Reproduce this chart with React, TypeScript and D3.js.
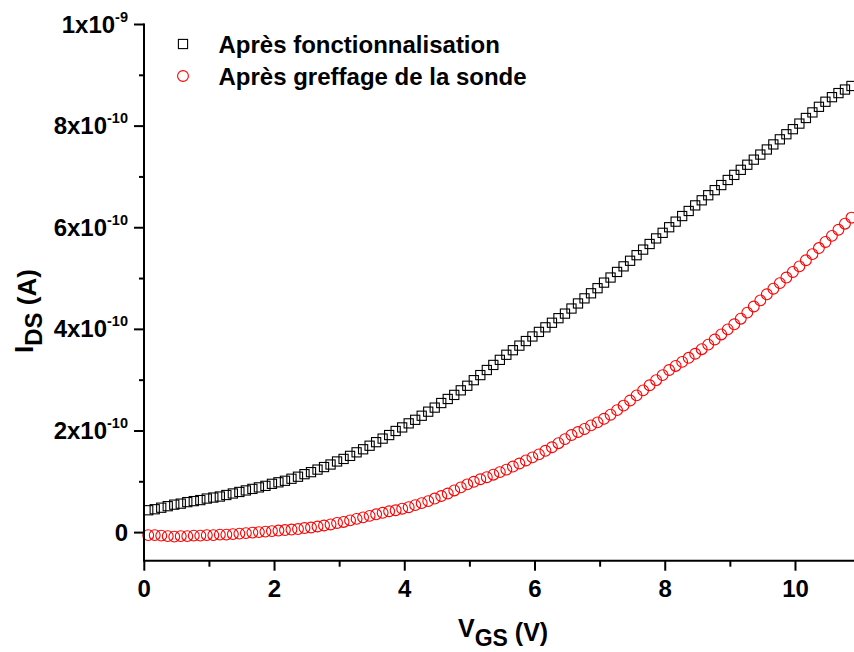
import { scaleLinear, range } from "d3";

// V_GS sampling grid (V)
const vStart = 0.06;
const vStep = 0.1;

// I_DS in units of 1e-10 A
const afterFunctionalisation = [
  0.44, 0.46, 0.49, 0.52, 0.55, 0.57, 0.6, 0.62, 0.64, 0.67,
  0.69, 0.71, 0.74, 0.77, 0.8, 0.83, 0.86, 0.89, 0.92, 0.96,
  0.99, 1.02, 1.06, 1.1, 1.15, 1.19, 1.24, 1.29, 1.34, 1.4,
  1.45, 1.51, 1.58, 1.64, 1.71, 1.78, 1.85, 1.92, 2.0, 2.07,
  2.15, 2.22, 2.3, 2.38, 2.46, 2.55, 2.63, 2.71, 2.8, 2.89,
  3.0, 3.1, 3.2, 3.3, 3.4, 3.5, 3.59, 3.68, 3.77, 3.86,
  3.95, 4.04, 4.13, 4.22, 4.31, 4.41, 4.51, 4.61, 4.71, 4.81,
  4.92, 5.02, 5.13, 5.24, 5.35, 5.46, 5.57, 5.68, 5.79, 5.9,
  6.01, 6.12, 6.23, 6.33, 6.44, 6.54, 6.64, 6.74, 6.84, 6.94,
  7.04, 7.14, 7.24, 7.34, 7.44, 7.54, 7.64, 7.74, 7.84, 7.94,
  8.05, 8.16, 8.27, 8.38, 8.48, 8.57, 8.65, 8.72, 8.79,
];

const afterProbeGrafting = [
  -0.05, -0.05, -0.06, -0.07, -0.08, -0.07, -0.07, -0.06, -0.06, -0.05,
  -0.05, -0.04, -0.04, -0.03, -0.02, -0.01, 0.0, 0.01, 0.02, 0.03,
  0.04, 0.05, 0.06, 0.07, 0.09, 0.1, 0.12, 0.14, 0.16, 0.19,
  0.21, 0.24, 0.27, 0.3, 0.33, 0.36, 0.39, 0.42, 0.44, 0.47,
  0.5, 0.54, 0.58, 0.62, 0.67, 0.72, 0.77, 0.83, 0.89, 0.95,
  1.0, 1.05, 1.09, 1.14, 1.19, 1.24, 1.3, 1.36, 1.42, 1.48,
  1.54, 1.61, 1.68, 1.76, 1.84, 1.92, 1.98, 2.04, 2.11, 2.17,
  2.24, 2.32, 2.41, 2.5, 2.6, 2.7, 2.8, 2.9, 3.0, 3.1,
  3.2, 3.28, 3.36, 3.44, 3.52, 3.61, 3.7, 3.8, 3.9, 4.0,
  4.1, 4.21, 4.33, 4.45, 4.57, 4.69, 4.8, 4.91, 5.02, 5.13,
  5.24, 5.36, 5.48, 5.6, 5.72, 5.84, 5.96, 6.08, 6.2,
];

const xMajorTicks = [0, 2, 4, 6, 8, 10];
const xMinorTicks = [1, 3, 5, 7, 9];
const yMajorTicks = [0, 2, 4, 6, 8, 10];
const yMinorTicks = [1, 3, 5, 7, 9];
// label parts: mantissa, exponent
const yTickLabels: [string, string][] = [
  ["0", ""],
  ["2x10", "-10"],
  ["4x10", "-10"],
  ["6x10", "-10"],
  ["8x10", "-10"],
  ["1x10", "-9"],
];

const legendLabels = ["Après fonctionnalisation", "Après greffage de la sonde"];

const W = 854;
const H = 652;
const font = "'Liberation Sans', Arial, Helvetica, sans-serif";

const App = () => {
  const xScale = scaleLinear().domain([0, 11]).range([144.3, 860.6]);
  const yScale = scaleLinear().domain([-0.553, 10]).range([560.7, 24.5]);

  const vgs = range(afterFunctionalisation.length).map((i) => vStart + i * vStep);

  const x0 = xScale(0);
  const yBottom = yScale(-0.553);
  const yTop = yScale(10);

  const sq = 9.2;

  return (
    <svg
      width={W}
      height={H}
      style={{ position: "absolute", left: 0, top: 0, display: "block", background: "#fff" }}
      fontFamily={font}
      fontWeight="bold"
    >
      <rect width={W} height={H} fill="#fff" />

      {/* data */}
      <g fill="none" stroke="#000" strokeWidth={1.1}>
        {afterFunctionalisation.map((v, i) => (
          <rect
            key={i}
            x={xScale(vgs[i]) - sq / 2}
            y={yScale(v) - sq / 2}
            width={sq}
            height={sq}
          />
        ))}
      </g>
      <g fill="none" stroke="#ff0000" strokeWidth={1.1}>
        {afterProbeGrafting.map((v, i) => (
          <circle key={i} cx={xScale(vgs[i])} cy={yScale(v)} r={5.4} />
        ))}
      </g>

      {/* axes */}
      <g stroke="#000" strokeWidth={2} fill="none">
        <line x1={x0 - 0.3} x2={W + 10} y1={yBottom} y2={yBottom} />
        <line x1={x0 - 0.3} x2={x0 - 0.3} y1={yTop - 1} y2={yBottom + 1} />
        {xMajorTicks.map((t) => (
          <line key={"xM" + t} x1={xScale(t)} x2={xScale(t)} y1={yBottom} y2={yBottom + 10} />
        ))}
        {xMinorTicks.map((t) => (
          <line key={"xm" + t} x1={xScale(t)} x2={xScale(t)} y1={yBottom} y2={yBottom + 6} />
        ))}
        {yMajorTicks.map((t) => (
          <line key={"yM" + t} x1={x0 - 10.3} x2={x0} y1={yScale(t)} y2={yScale(t)} />
        ))}
        {yMinorTicks.map((t) => (
          <line key={"ym" + t} x1={x0 - 5.3} x2={x0} y1={yScale(t)} y2={yScale(t)} />
        ))}
      </g>

      {/* x tick labels */}
      <g fontSize={24} textAnchor="middle" fill="#000">
        {xMajorTicks.map((t) => (
          <text key={t} x={xScale(t)} y={597}>
            {t}
          </text>
        ))}
      </g>

      {/* y tick labels */}
      <g fill="#000" textAnchor="end">
        {yMajorTicks.map((t, i) => {
          const [m, e] = yTickLabels[i];
          return (
            <text key={t} x={128} y={yScale(t) + 8} fontSize={24}>
              {m}
              {e && (
                <tspan fontSize={14.5} dy={-11}>
                  {e}
                </tspan>
              )}
            </text>
          );
        })}
      </g>

      {/* axis titles */}
      <text x={458} y={637} fontSize={25} fill="#000">
        V
        <tspan fontSize={23} dy={9}>GS</tspan>
        <tspan fontSize={25} dy={-5}>{" (V)"}</tspan>
      </text>
      <text transform="translate(33,353) rotate(-90)" fontSize={26} fill="#000">
        I
        <tspan fontSize={24} dy={9}>DS</tspan>
        <tspan fontSize={26} dy={-6}>{" (A)"}</tspan>
      </text>

      {/* legend */}
      <g>
        <rect x={183 - 4.6} y={44 - 4.6} width={9.2} height={9.2} fill="none" stroke="#000" strokeWidth={1.1} />
        <circle cx={183} cy={76} r={5.4} fill="none" stroke="#ff0000" strokeWidth={1.1} />
        <text x={218.5} y={53} fontSize={24} fill="#000">
          {legendLabels[0]}
        </text>
        <text x={218.5} y={84.5} fontSize={24} fill="#000">
          {legendLabels[1]}
        </text>
      </g>
    </svg>
  );
};

export default App;
